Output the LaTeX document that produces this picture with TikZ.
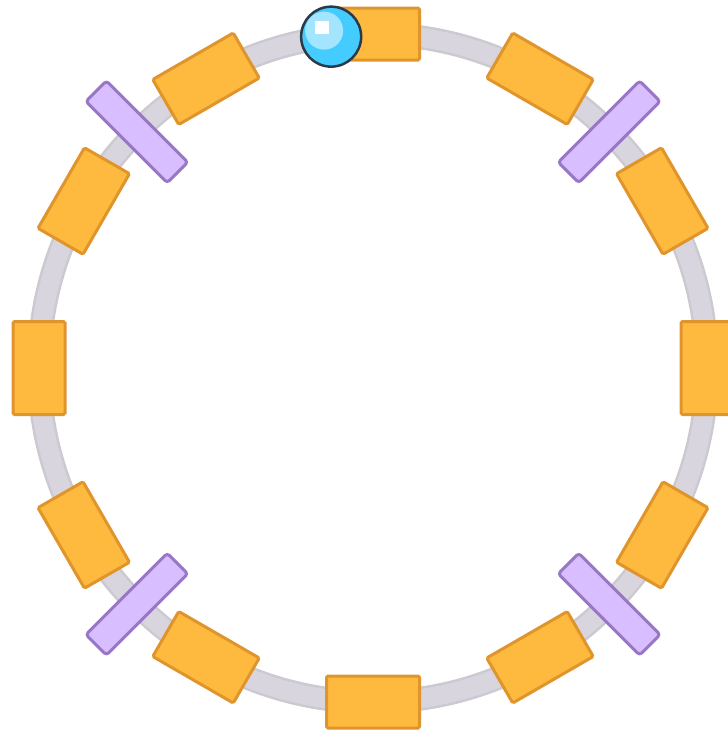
\documentclass[tikz,border=0pt]{standalone}
\definecolor{ringgray}{HTML}{D8D5DE}
\definecolor{ringedge}{HTML}{CCC9D0}
\definecolor{orangefill}{HTML}{FDBA3E}
\definecolor{orangeedge}{HTML}{E0952C}
\definecolor{purplefill}{HTML}{D8BDFF}
\definecolor{purpleedge}{HTML}{9878C6}
\definecolor{ballfill}{HTML}{45CCFF}
\definecolor{ballhi}{HTML}{A3E5FF}
\definecolor{balledge}{HTML}{2B3A48}
\tikzset{
  orangebox/.style={draw=orangeedge, fill=orangefill, line width=3pt, inner sep=0pt,
    minimum width=93pt, minimum height=52pt, rounded corners=1.5pt},
  purplebox/.style={draw=purpleedge, fill=purplefill, line width=3pt, inner sep=0pt,
    minimum width=115pt, minimum height=29pt, rounded corners=3pt},
  ballnode/.style={circle, draw=balledge, fill=ballfill, line width=2.5pt, inner sep=0pt,
    minimum size=60pt}
}
\begin{document}
\begin{tikzpicture}[x=1pt,y=1pt]
\useasboundingbox (0,0) rectangle (728,-731);
\coordinate (c) at (373,-368);
\draw[ringedge, line width=24pt] (c) circle[radius=334pt];
\draw[ringgray, line width=19pt] (c) circle[radius=334pt];
\foreach \a [count=\i] in {0,30,...,330}
  \node[orangebox, rotate=\a+90] (o\i) at ([shift={(\a:334pt)}]c) {};
\foreach \a [count=\i] in {45,135,225,315}
  \node[purplebox, rotate=\a] (p\i) at ([shift={(\a:334pt)}]c) {};
\node[ballnode] (ball) at ([shift={(97.2:334pt)}]c) {};
\fill[ballhi] ([shift={(-7pt,6pt)}]ball.center) circle[radius=19pt];
\fill[white] ([shift={(-16pt,16pt)}]ball.center) rectangle ([shift={(-2pt,3pt)}]ball.center);
\end{tikzpicture}
\end{document}
